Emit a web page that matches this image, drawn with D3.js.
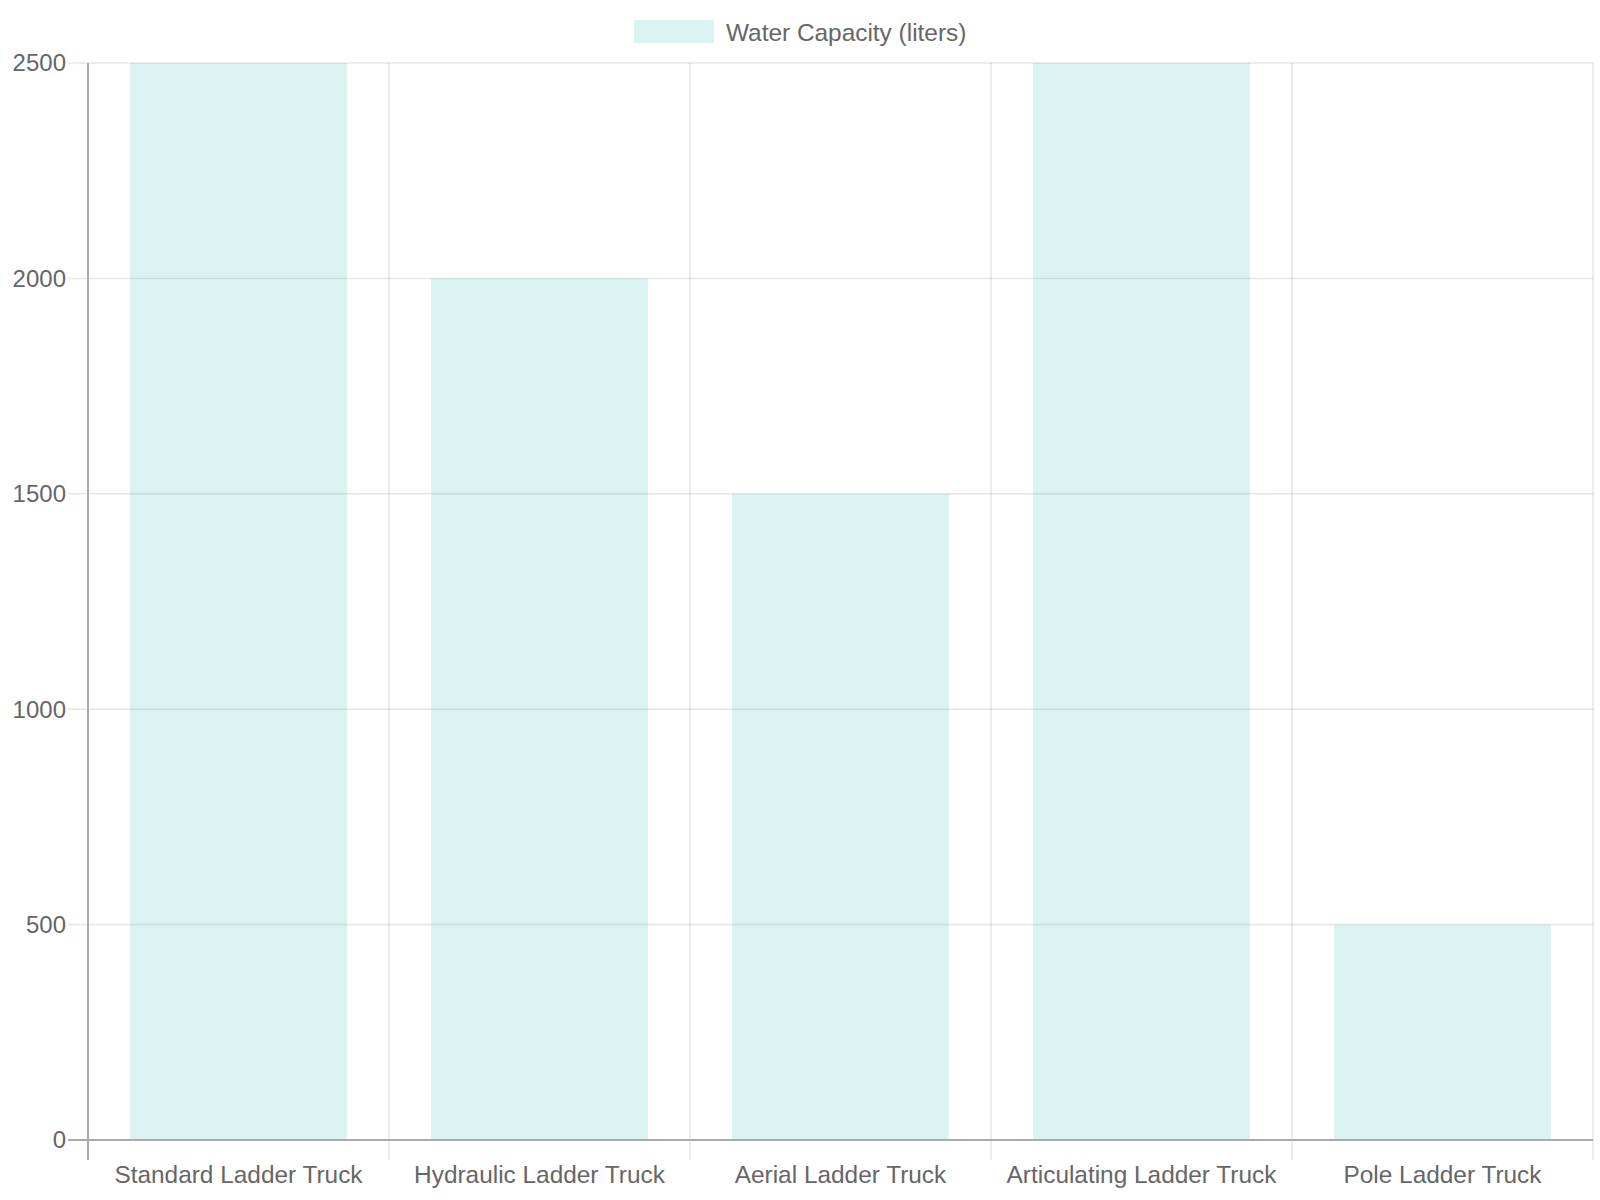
<!DOCTYPE html>
<html>
<head>
<meta charset="utf-8">
<script src="https://cdn.jsdelivr.net/npm/d3@7"></script>
<style>
  body { margin: 0; background: #fff; }
  svg { display: block; font-family: "Liberation Sans", Arial, sans-serif; }
</style>
</head>
<body>
<div id="chart"></div>
<script>
const trucks = ["Standard Ladder Truck", "Hydraulic Ladder Truck", "Aerial Ladder Truck", "Articulating Ladder Truck", "Pole Ladder Truck"];
const capacity = [2500, 2000, 1500, 2500, 500];
const yTicks = [0, 500, 1000, 1500, 2000, 2500];
const seriesName = "Water Capacity (liters)";

const W = 1600, H = 1200;
const margin = { top: 63, right: 7, bottom: 60, left: 88 },
      width = W - margin.left - margin.right,
      height = H - margin.top - margin.bottom;

const fill = "rgba(75,192,192,0.2)";
const gridColor = "rgba(0,0,0,0.1)";
const textColor = "#666";
const tickLen = 20;

const svg = d3.select("#chart")
    .append("svg")
    .attr("width", W)
    .attr("height", H);

const g = svg.append("g")
    .attr("transform", `translate(${margin.left},${margin.top})`);

const x = d3.scaleBand()
    .domain(trucks)
    .range([0, width])
    .paddingInner(0)
    .paddingOuter(0);

const y = d3.scaleLinear()
    .domain([0, 2500])
    .range([height, 0]);

// horizontal grid + y ticks
g.selectAll(".hgrid")
    .data(yTicks)
    .join("line")
    .attr("x1", -tickLen)
    .attr("x2", width)
    .attr("y1", d => y(d))
    .attr("y2", d => y(d))
    .attr("stroke", gridColor)
    .attr("stroke-width", 1.5);

// vertical grid at category boundaries
const bounds = trucks.map(t => x(t)).concat([width]);
g.selectAll(".vgrid")
    .data(bounds)
    .join("line")
    .attr("x1", d => d)
    .attr("x2", d => d)
    .attr("y1", 0)
    .attr("y2", height + tickLen)
    .attr("stroke", gridColor)
    .attr("stroke-width", 1.5);

// bars
const bw = x.bandwidth() * 0.72;
g.selectAll(".bar")
    .data(capacity)
    .join("rect")
    .attr("x", (d, i) => x(trucks[i]) + (x.bandwidth() - bw) / 2)
    .attr("width", bw)
    .attr("y", d => y(d))
    .attr("height", d => y(0) - y(d))
    .attr("fill", fill);

// axis lines
g.append("line")
    .attr("x1", 0).attr("x2", 0)
    .attr("y1", 0).attr("y2", height + tickLen)
    .attr("stroke", "#aaa")
    .attr("stroke-width", 2);

g.append("line")
    .attr("x1", -tickLen).attr("x2", width)
    .attr("y1", height).attr("y2", height)
    .attr("stroke", "#aaa")
    .attr("stroke-width", 2);

// y labels
g.selectAll(".ylab")
    .data(yTicks)
    .join("text")
    .attr("x", -tickLen - 2)
    .attr("y", d => y(d))
    .attr("dy", "0.35em")
    .attr("text-anchor", "end")
    .attr("fill", textColor)
    .style("font-size", "24px")
    .text(d => d);

// x labels
g.selectAll(".xlab")
    .data(trucks)
    .join("text")
    .attr("x", d => x(d) + x.bandwidth() / 2)
    .attr("y", height + 34)
    .attr("dy", "0.35em")
    .attr("text-anchor", "middle")
    .attr("fill", textColor)
    .style("font-size", "24.4px")
    .text(d => d);

// legend
const legend = svg.append("g").attr("transform", "translate(634, 20)");
legend.append("rect").attr("width", 80).attr("height", 23).attr("fill", fill);
legend.append("text")
    .attr("x", 92).attr("y", 12)
    .attr("dy", "0.35em")
    .attr("fill", textColor)
    .style("font-size", "24.4px")
    .text(seriesName);
</script>
</body>
</html>
